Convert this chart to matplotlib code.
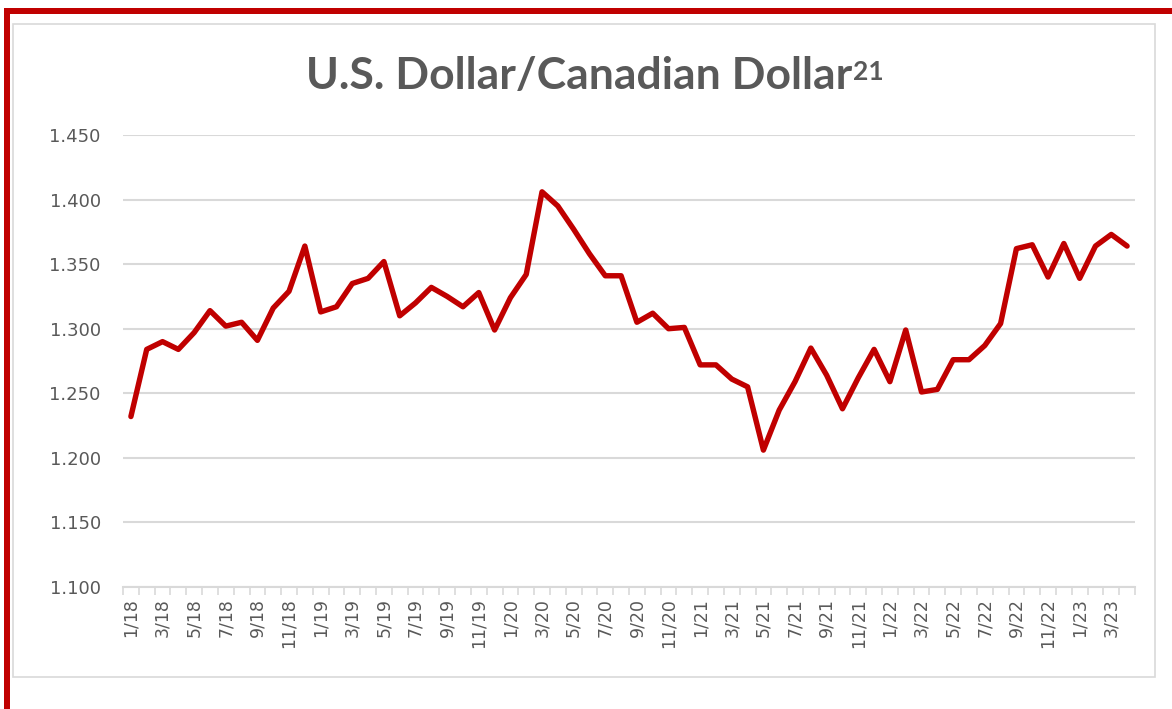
import matplotlib.pyplot as plt
from matplotlib.patches import Rectangle
import numpy as np

# monthly USD/CAD, Jan 2018 - Apr 2023
months = [f"{m}/{y}" for y in range(18, 24) for m in range(1, 13)][:64]
usd_cad = [
    1.232, 1.284, 1.290, 1.284, 1.297, 1.314, 1.302, 1.305, 1.291, 1.316, 1.329, 1.364,
    1.313, 1.317, 1.335, 1.339, 1.352, 1.310, 1.320, 1.332, 1.325, 1.317, 1.328, 1.299,
    1.324, 1.342, 1.406, 1.395, 1.377, 1.358, 1.341, 1.341, 1.305, 1.312, 1.300, 1.301,
    1.272, 1.272, 1.261, 1.255, 1.206, 1.237, 1.259, 1.285, 1.264, 1.238, 1.262, 1.284,
    1.259, 1.299, 1.251, 1.253, 1.276, 1.276, 1.287, 1.304, 1.362, 1.365, 1.340, 1.366,
    1.339, 1.364, 1.373, 1.364,
]
y_ticks = [1.100, 1.150, 1.200, 1.250, 1.300, 1.350, 1.400, 1.450]

TXT = '#595959'
GRID = '#d9d9d9'
RED = '#c00000'

fig = plt.figure(figsize=(11.72, 7.09), dpi=100)

# outer red frame (cut off at right and bottom) and the grey chart box
fig.add_artist(Rectangle((4/1172, 0), 6/1172, 1 - 8/709, transform=fig.transFigure,
                         color=RED, lw=0))
fig.add_artist(Rectangle((4/1172, 1 - 14/709), 1, 6/709, transform=fig.transFigure,
                         color=RED, lw=0))
fig.add_artist(Rectangle((13/1172, 1 - 677/709), (1155 - 13)/1172, (677 - 24)/709,
                         transform=fig.transFigure, facecolor='none',
                         edgecolor=GRID, lw=1.2))

ax = fig.add_axes([123/1172, 1 - 587/709, 1012/1172, 452/709])
x = np.arange(len(usd_cad))
ax.plot(x, usd_cad, color=RED, lw=3.9, solid_joinstyle='round', solid_capstyle='round')

ax.set_xlim(-0.5, len(usd_cad) - 0.5)
ax.set_ylim(1.100, 1.450)
ax.set_yticks(y_ticks)
ax.set_yticklabels([f"{v:.3f}" for v in y_ticks])
ax.yaxis.grid(True, color=GRID, lw=1.5)
ax.set_axisbelow(True)

ax.set_xticks(x[::2])
ax.set_xticklabels(months[::2], rotation=90)
ax.set_xticks(np.arange(-0.5, len(usd_cad)), minor=True)
ax.tick_params(axis='x', which='major', length=0, pad=8, labelsize=12.5, labelcolor=TXT)
ax.tick_params(axis='x', which='minor', length=6, color=GRID, width=1.2)
ax.tick_params(axis='y', length=0, pad=16, labelsize=13, labelcolor=TXT)

for s in ['top', 'right', 'left']:
    ax.spines[s].set_visible(False)
ax.spines['bottom'].set_color(GRID)
ax.spines['bottom'].set_linewidth(1.5)

title = fig.text(0.494, 1 - 76/709, "U.S. Dollar/Canadian Dollar", ha='center', va='center',
                 fontsize=32, fontweight='bold', color=TXT, family='Lato')
ax.annotate("21", xy=(1, 1), xycoords=title, xytext=(1, -3), textcoords='offset points',
            ha='left', va='top', fontsize=19, fontweight='bold', color=TXT, family='Lato')

fig.savefig('out.png', dpi=100)
